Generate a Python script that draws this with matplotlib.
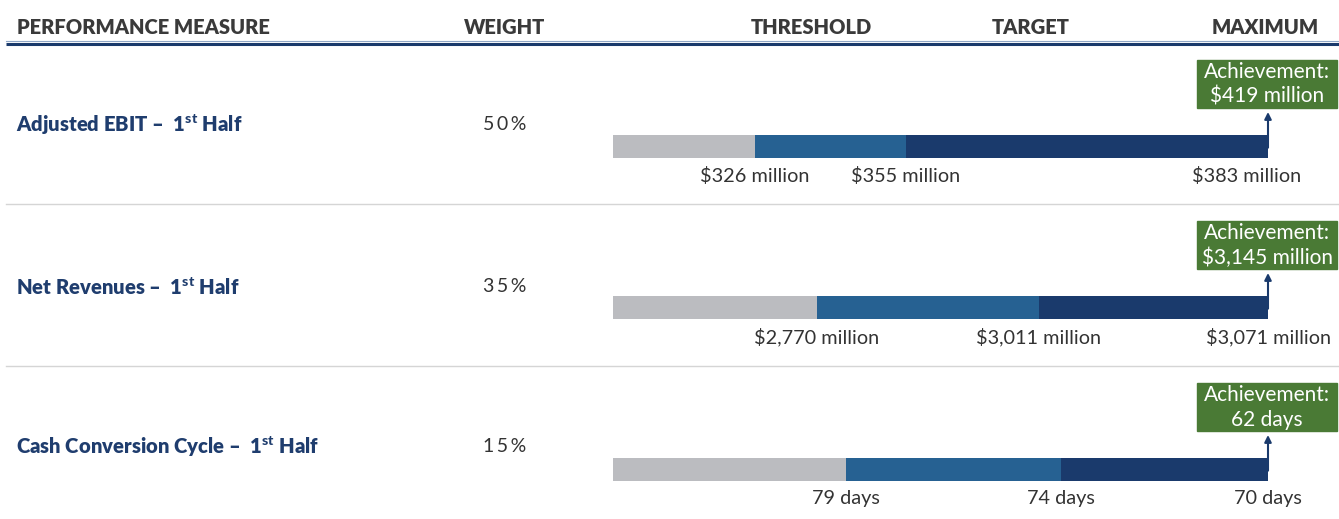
import matplotlib.pyplot as plt
from matplotlib.patches import Rectangle

plt.rcParams['font.family'] = ['Lato', 'DejaVu Sans']
plt.rcParams['mathtext.fontset'] = 'custom'
plt.rcParams['mathtext.rm'] = 'Lato'
plt.rcParams['mathtext.bf'] = 'Lato:black'

# data
headers = ['PERFORMANCE MEASURE', 'WEIGHT', 'THRESHOLD', 'TARGET', 'MAXIMUM']
measures = [r'Adjusted EBIT –  1$^{\mathbf{st}}$ Half',
            r'Net Revenues –  1$^{\mathbf{st}}$ Half',
            r'Cash Conversion Cycle –  1$^{\mathbf{st}}$ Half']
weights = ['5\u20090\u2009%', '3\u20095\u2009%', '1\u20095\u2009%']
# where threshold and target sit along the bar (share of bar, 0-100)
threshold_pos = [21.7, 31.1, 35.6]
target_pos = [44.7, 65.0, 68.4]
threshold_lbl = ['$326 million', '$2,770 million', '79 days']
target_lbl = ['$355 million', '$3,011 million', '74 days']
maximum_lbl = ['$383 million', '$3,071 million', '70 days']
achievement = ['$419 million', '$3,145 million', '62 days']

GREY = '#bbbcc0'
BLUE = '#266192'
NAVY = '#1a3a6c'
GREEN = '#4a7a35'
TXT = '#333333'

W, H = 1339, 519
fig = plt.figure(figsize=(W / 100, H / 100), dpi=100)

# background axes in pixel units for the table layout
bg = fig.add_axes([0, 0, 1, 1])
bg.set_xlim(0, W)
bg.set_ylim(H, 0)
bg.axis('off')

hx = [17, 505, 811, 1031, 1265]
for i, h in enumerate(headers):
    bg.text(hx[i], 27, h, ha='left' if i == 0 else 'center', va='center',
            fontsize=14.5, fontweight='heavy', color='#3a3a3a')
bg.plot([6, W], [41, 41], color='#8fa6c6', lw=0.8)
bg.plot([6, W], [43.5, 43.5], color=NAVY, lw=2.2, solid_capstyle='butt')
for y in [204, 366]:
    bg.plot([6, W], [y, y], color='#d5d5d5', lw=1)

row_y = [125, 287, 447]
bar_top = [135, 296, 458]
bar_h = 23
x0, x1 = 613, 1268
# small nudge of the maximum label, as in the source layout
max_shift = [-3.2, 0, 0]

for i in range(3):
    bg.text(16, row_y[i], measures[i], ha='left', va='center', fontsize=14.6,
            fontweight='heavy', color='#1f3d6e')
    bg.text(505, row_y[i], weights[i], ha='center', va='center', fontsize=14,
            color=TXT)

    ax = fig.add_axes([x0 / W, (H - bar_top[i] - bar_h) / H, (x1 - x0) / W, bar_h / H])
    ax.set_xlim(0, 100)
    ax.set_ylim(0, 1)
    ax.axis('off')
    lefts = [0, threshold_pos[i], target_pos[i]]
    widths = [threshold_pos[i], target_pos[i] - threshold_pos[i], 100 - target_pos[i]]
    ax.barh(0.5, widths, left=lefts, height=1, color=[GREY, BLUE, NAVY])

    for xp, lbl in zip([threshold_pos[i], target_pos[i], 100 + max_shift[i]],
                       [threshold_lbl[i], target_lbl[i], maximum_lbl[i]]):
        ax.text(xp, -0.78, lbl, ha='center', va='center', fontsize=14.3,
                color=TXT, clip_on=False)

    # achievement box + arrow
    ax.add_patch(Rectangle((89.2, 2.17), 21.4, 2.09, color=GREEN, clip_on=False))
    ax.text(99.85, 3.72, 'Achievement:', ha='center', va='center', fontsize=15,
            color='white', clip_on=False)
    ax.text(99.85, 2.66, achievement[i], ha='center', va='center', fontsize=15,
            color='white', clip_on=False)
    ax.annotate('', xy=(100, 2.0), xytext=(100, 0.45),
                arrowprops=dict(arrowstyle='-|>', color=NAVY, lw=1.5,
                                mutation_scale=10, shrinkA=0, shrinkB=0),
                annotation_clip=False)

fig.savefig('out.png', dpi=100)
